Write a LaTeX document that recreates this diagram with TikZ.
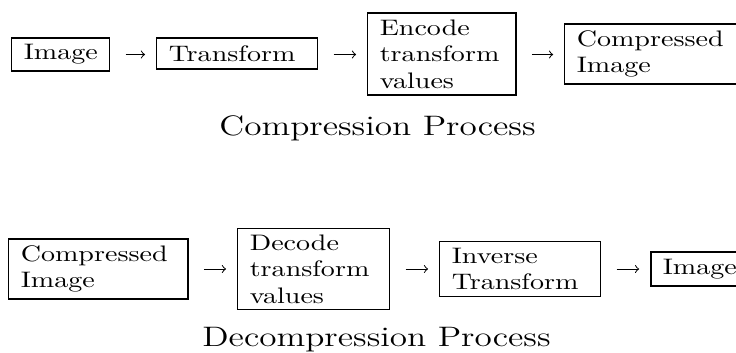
\documentclass[tikz,border=0pt]{standalone}
\usetikzlibrary{calc}
\tikzset{
  box/.style={draw, line width=0.6pt, rectangle, align=left, anchor=west,
    inner xsep=4.36pt, inner ysep=0pt, font=\fontsize{10.2}{12}\selectfont},
  flow/.style={->, line width=0.45pt, shorten <=6.8pt, shorten >=5pt},
  caption/.style={anchor=base, inner sep=0pt, font=\fontsize{12.8}{15}\selectfont}
}
\begin{document}
\begin{tikzpicture}[x=0.3636pt, y=-0.4545pt, xscale=1.25,
  every node/.append style={transform shape}]
  \useasboundingbox (0,0) rectangle (736,352);
  \clip (0,0) rectangle (736,352);

  % compression chain
  \node[box, text width=26.9pt, minimum height=15pt]  (img)  at (11,54.5)  {Image};
  \node[box, text width=49.8pt, minimum height=14.1pt] (tr)  at (156,53.5) {Transform};
  \node[box, text width=45.1pt, minimum height=37.3pt] (enc) at (367,54)   {Encode\\transform\\values};
  \node[box, text width=55.3pt, minimum height=27.3pt] (cmp) at (564,54)   {Compressed\\Image};
  \node[caption] (capc) at (377.5,135) {Compression Process};

  \draw[flow] (img.east) -- (img.east -| tr.west);
  \draw[flow] (tr.east |- img.east) -- (img.east -| enc.west);
  \draw[flow] (enc.east |- img.east) -- (img.east -| cmp.west);

  % decompression chain
  \node[box, text width=56.4pt, minimum height=27.3pt] (cmp2) at (8,269)   {Compressed\\Image};
  \node[box, text width=46.5pt, minimum height=36.8pt] (dec)  at (237,269) {Decode\\transform\\values};
  \node[box, text width=49.8pt, minimum height=25pt]   (inv)  at (439,269) {Inverse\\Transform};
  \node[box, text width=26.9pt, minimum height=15.5pt] (img2) at (650,269) {Image};
  \node[caption] (capd) at (376.5,346) {Decompression Process};

  \draw[flow] (cmp2.east) -- (dec.west);
  \draw[flow] (dec.east) -- (inv.west);
  \draw[flow] (inv.east) -- (img2.west);
\end{tikzpicture}
\end{document}
